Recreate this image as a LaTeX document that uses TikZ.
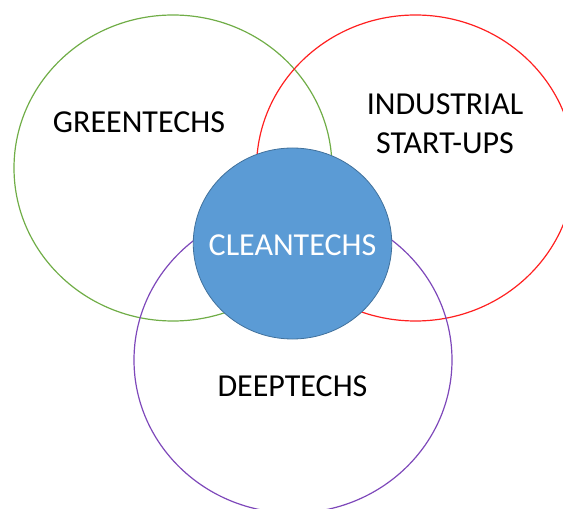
\documentclass[tikz,border=0pt]{standalone}
\usepackage{fontspec}
\setmainfont{Carlito}
\usetikzlibrary{shapes.geometric}
\definecolor{vgreen}{HTML}{70AD47}
\definecolor{vred}{HTML}{FF2020}
\definecolor{vpurple}{HTML}{7E48BA}
\definecolor{vblue}{HTML}{5B9BD5}
\definecolor{vblueborder}{HTML}{41719C}
\tikzset{
  setring/.style={ellipse, draw=#1, line width=0.9pt, inner sep=0pt, outer sep=0pt,
    minimum width=318*0.75pt, minimum height=306*0.75pt},
  core/.style={ellipse, draw=vblueborder, fill=vblue, line width=0.6pt, inner sep=0pt,
    minimum width=198.5*0.75pt, minimum height=191*0.75pt},
  lbl/.style={font=\fontsize{24}{29.25}\selectfont, align=center, inner sep=0pt, text=black},
}
\begin{document}
\begin{tikzpicture}[x=0.75pt, y=-0.75pt]
\useasboundingbox (0,0) rectangle (563,509);
\node[setring=vgreen] (green) at (173,168) {};
\node[setring=vred] (red) at (415.5,168) {};
\node[setring=vpurple] (purple) at (293,360) {};
\node[core] (clean) at (292.5,243.5) {};
\node[lbl] (tgreen) at (139,122) {GREENTECHS};
\node[lbl] (tind) at (445,124) {INDUSTRIAL\\START-UPS};
\node[lbl, text=white] (tclean) at (292.5,245) {CLEANTECHS};
\node[lbl] (tdeep) at (292.5,386) {DEEPTECHS};
\end{tikzpicture}
\end{document}
